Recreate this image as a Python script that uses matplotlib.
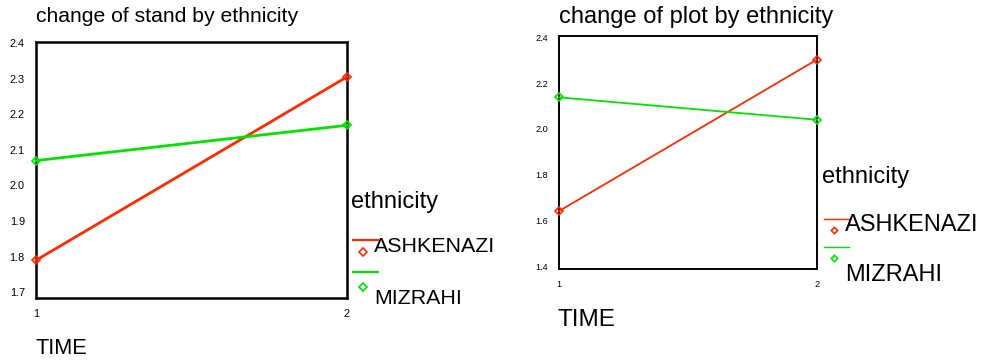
import matplotlib.pyplot as plt
from matplotlib.lines import Line2D

plt.rcParams["font.family"] = ["Liberation Sans", "DejaVu Sans"]

TIME = [1, 2]
GROUPS = ["ASHKENAZI", "MIZRAHI"]
COLORS = {"ASHKENAZI": "#ff2a00", "MIZRAHI": "#00e400"}

# mean "stand" by ethnicity
STAND = {"ASHKENAZI": [1.79, 2.305], "MIZRAHI": [2.07, 2.169]}
STAND_TICKS = [1.7, 1.8, 1.9, 2.0, 2.1, 2.2, 2.3, 2.4]

# mean "plot" by ethnicity
PLOT = {"ASHKENAZI": [1.641, 2.303], "MIZRAHI": [2.138, 2.04]}
PLOT_TICKS = [1.4, 1.6, 1.8, 2.0, 2.2, 2.4]

W, H = 984, 362


def fx(x):
    return x / W


def fy(y):
    return 1 - y / H


def draw_panel(fig, box, data, ticks, ylim, title, style, leg):
    left, top, right, bottom = box
    lw, box_lw, ms, tick_fs, title_fs, leg_fs, title_y, time_y = style
    ax = fig.add_axes([fx(left), fy(bottom), (right - left) / W, (bottom - top) / H])
    for g in GROUPS:
        ax.plot(TIME, data[g], color=COLORS[g], linewidth=lw, marker="D",
                markersize=ms, markerfacecolor="none", markeredgewidth=1.2,
                clip_on=False, zorder=3)
    ax.set_xlim(1, 2)
    ax.set_ylim(*ylim)
    ax.set_xticks(TIME)
    ax.set_yticks(ticks)
    ax.set_yticklabels([f"{t:.1f}" for t in ticks])
    ax.tick_params(length=0, labelsize=tick_fs, pad=8)
    for s in ax.spines.values():
        s.set_linewidth(box_lw)

    fig.text(fx(left), fy(title_y), title, fontsize=title_fs, va="center", ha="left")
    fig.text(fx(left - 1), fy(time_y), "TIME", fontsize=title_fs + 0.5,
             va="center", ha="left")

    # hand-placed legend, like the original
    lx, ty, rows = leg
    fig.text(fx(lx), fy(ty), "ethnicity", fontsize=17, va="center", ha="left")
    for g, (ly, my, txy) in zip(GROUPS, rows):
        fig.add_artist(Line2D([fx(lx + 2), fx(lx + 27)], [fy(ly), fy(ly)],
                              color=COLORS[g], linewidth=lw * 0.8,
                              transform=fig.transFigure))
        fig.add_artist(Line2D([fx(lx + 12)], [fy(my)], color=COLORS[g], marker="D",
                              markersize=ms * 0.8, markerfacecolor="none",
                              markeredgewidth=1.2, transform=fig.transFigure))
        fig.text(fx(lx + 23), fy(txy), g, fontsize=leg_fs, va="center", ha="left")
    return ax


fig = plt.figure(figsize=(9.84, 3.62), dpi=100)

draw_panel(fig, (36, 42, 347, 298), STAND, STAND_TICKS, (1.684, 2.403),
           "change of stand by ethnicity",
           (2.0, 1.8, 4.5, 7.8, 15.2, 15.4, 16, 349),
           (351, 202, [(240, 252, 247), (272, 287, 298)]))

draw_panel(fig, (559, 36, 817, 269), PLOT, PLOT_TICKS, (1.388, 2.406),
           "change of plot by ethnicity",
           (1.3, 1.4, 4.0, 6.6, 17.0, 17.0, 17, 320),
           (822, 177, [(219, 230, 225), (247, 258, 275)]))

fig.savefig("out.png", dpi=100)
